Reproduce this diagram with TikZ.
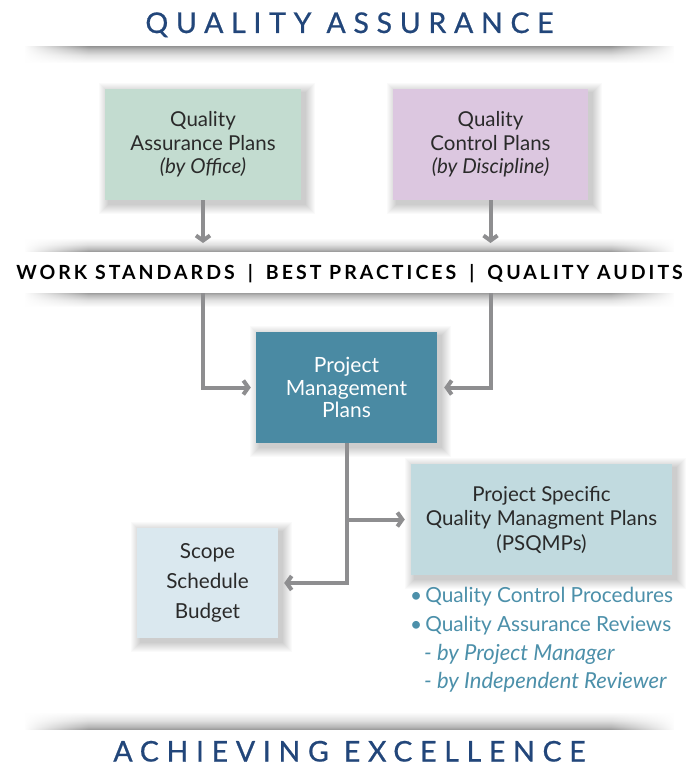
\documentclass[tikz,border=0pt]{standalone}
\usepackage{fontspec}
\setmainfont{Lato}
\usetikzlibrary{arrows.meta,fadings,backgrounds}
\definecolor{titleblue}{HTML}{22467A}
\definecolor{qafill}{HTML}{C3DCD0}
\definecolor{qcfill}{HTML}{DCC7E0}
\definecolor{pmpfill}{HTML}{4A8AA3}
\definecolor{psqfill}{HTML}{C1DADF}
\definecolor{scopefill}{HTML}{DAE8EF}
\definecolor{arrowgray}{HTML}{8E8E90}
\definecolor{bulletblue}{HTML}{4C90AA}
\definecolor{boxtext}{HTML}{2A2A2A}
\pgfdeclarehorizontalshading{sidefadeshade}{100bp}{color(0bp)=(black); color(25bp)=(black); color(30bp)=(white); color(70bp)=(white); color(75bp)=(black); color(100bp)=(black)}
\pgfdeclarefading{sidefade}{\pgfuseshading{sidefadeshade}}
\pgfdeclareverticalshading{shdown}{100bp}{color(0bp)=(white); color(25bp)=(white); color(50bp)=(black!12); color(68bp)=(black!28); color(75bp)=(black!38); color(100bp)=(black!38)}
\pgfdeclareverticalshading{shup}{100bp}{color(0bp)=(black!38); color(25bp)=(black!38); color(32bp)=(black!28); color(50bp)=(black!12); color(75bp)=(white); color(100bp)=(white)}
\newcommand\boxshadow[1]{%
  \foreach \i in {1,...,10}{%
    \fill[black,opacity=0.018] ([shift={(4-\i,4+\i)}]#1.south west) rectangle ([shift={(4+\i,4-\i)}]#1.north east);}}
\begin{document}
\begin{tikzpicture}[x=1pt,y=-1pt,
  plan/.style={inner sep=0pt, align=center, text=boxtext,
    font=\fontsize{20.5}{23.5}\selectfont},
  arr/.style={draw=arrowgray, line width=4pt, -{Straight Barb[length=5pt,width=14pt]}},
  banner/.style={text=titleblue, anchor=base,
    font=\fontsize{28.5}{34}\selectfont\addfontfeatures{LetterSpace=27,FakeBold=0.7}},
  bul/.style={text=bulletblue, anchor=base west, inner sep=0pt,
    font=\fontsize{20.8}{23}\selectfont},
  subbul/.style={bul, font=\fontsize{22}{23}\selectfont\itshape}]
\useasboundingbox (0,0) rectangle (699,767);

% titles
\node[banner] (title) at (349.5,33) {QUALITY ASSURANCE};
\node[banner] (foot) at (349.5,761.5) {ACHIEVING EXCELLENCE};
\node[anchor=base, inner sep=0pt, text=black,
  font=\fontsize{19.5}{24}\selectfont\bfseries\addfontfeatures{LetterSpace=15.5}] (band) at (349.5,279)
  {WORK STANDARDS\hspace{13pt}|\hspace{13pt}BEST PRACTICES\hspace{13pt}|\hspace{13pt}QUALITY AUDITS};

% boxes
\node[plan, fill=qafill, minimum width=196pt, minimum height=111pt] (qa) at (203,144.5)
  {Quality\\Assurance Plans\\\textit{(by Office)}};
\node[plan, fill=qcfill, minimum width=195pt, minimum height=111pt] (qc) at (490.5,144.5)
  {Quality\\Control Plans\\\textit{(by Discipline)}};
\node[plan, fill=pmpfill, text=white, minimum width=181pt, minimum height=111pt,
  font=\fontsize{21}{22.5}\selectfont] (pmp) at (346.5,387.5)
  {Project\\Management\\Plans};
\node[plan, fill=psqfill, minimum width=261pt, minimum height=111pt,
  font=\fontsize{20.5}{24.5}\selectfont] (psq) at (541.5,519.5)
  {Project Specific\\Quality Managment Plans\\(PSQMPs)};
\node[plan, fill=scopefill, minimum width=141pt, minimum height=110pt,
  font=\fontsize{20.7}{30}\selectfont] (scope) at (207.5,583)
  {Scope\\Schedule\\Budget};

% bullets
\node[bul] (b1) at (410,602) {•\hspace{3pt}Quality Control Procedures};
\node[bul] (b2) at (410,631.5) {•\hspace{3pt}Quality Assurance Reviews};
\node[subbul] (b3) at (424,660) {- by Project Manager};
\node[subbul] (b4) at (424,688.5) {- by Independent Reviewer};

% connectors
\coordinate (qaend) at (203,243);
\coordinate (qcend) at (490.5,243);
\coordinate (l1) at (203,293);
\coordinate (l2) at (490.5,293);
\draw[arr] (qa.south) -- (qaend);
\draw[arr] (qc.south) -- (qcend);
\draw[arr, shorten >=5pt] (l1) |- (pmp.west);
\draw[arr, shorten >=7pt] (l2) |- (pmp.east);
\draw[arr, shorten >=6pt] (pmp.south) |- (scope.east);
\draw[arr, shorten >=6pt] (pmp.south |- psq.west) -- (psq.west);

\begin{scope}[on background layer]
  \fill[white] (0,0) rectangle (699,767);
  \shade[shading=shdown, path fading=sidefade] (25,47) rectangle (674,63);
  \shade[shading=shup, path fading=sidefade] (25,238) rectangle (674,251);
  \shade[shading=shdown, path fading=sidefade] (25,293) rectangle (674,307);
  \shade[shading=shup, path fading=sidefade] (25,712) rectangle (674,729);
  \boxshadow{qa}
  \boxshadow{qc}
  \boxshadow{pmp}
  \boxshadow{psq}
  \boxshadow{scope}
\end{scope}
\end{tikzpicture}
\end{document}
